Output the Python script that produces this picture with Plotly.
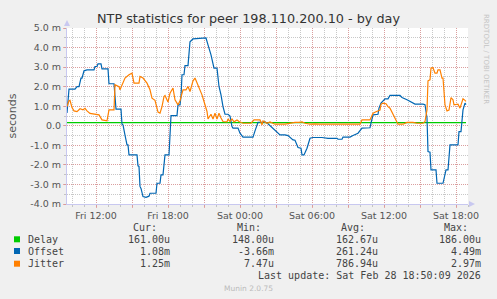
import plotly.graph_objects as go

# ---------------- data (values in milliseconds) ----------------
DAYS = {"Fri": "2026-02-27", "Sat": "2026-02-28"}

delay_time = ["Fri 09:35", "Fri 14:00", "Fri 20:00", "Sat 02:00", "Sat 08:00", "Sat 14:00", "Sat 18:50"]
delay_ms = [0.163, 0.162, 0.164, 0.161, 0.163, 0.162, 0.161]

offset_time = [
    "Fri 09:35", "Fri 09:40", "Fri 09:45", "Fri 10:15", "Fri 10:25", "Fri 10:35", "Fri 10:45", "Fri 10:50",
    "Fri 11:00", "Fri 11:15", "Fri 11:50", "Fri 11:55", "Fri 12:05", "Fri 12:10", "Fri 12:25", "Fri 12:30",
    "Fri 13:00", "Fri 13:05", "Fri 13:30", "Fri 13:40", "Fri 14:05", "Fri 14:10", "Fri 14:15", "Fri 14:25",
    "Fri 14:35", "Fri 14:40", "Fri 14:45", "Fri 15:25", "Fri 15:30", "Fri 15:35", "Fri 15:40", "Fri 15:45",
    "Fri 15:55", "Fri 16:10", "Fri 16:25", "Fri 16:30", "Fri 17:00", "Fri 17:05", "Fri 17:20", "Fri 17:25",
    "Fri 17:35", "Fri 17:45", "Fri 18:05", "Fri 18:15", "Fri 18:45", "Fri 18:50", "Fri 19:00", "Fri 19:05",
    "Fri 19:10", "Fri 19:20", "Fri 19:25", "Fri 19:40", "Fri 19:50", "Fri 20:05", "Fri 21:10", "Fri 21:20",
    "Fri 21:35", "Fri 21:50", "Fri 22:05", "Fri 22:15", "Fri 22:25", "Fri 22:35", "Fri 22:45", "Fri 23:00",
    "Fri 23:10", "Fri 23:20", "Fri 23:25", "Fri 23:50", "Sat 00:00", "Sat 00:15", "Sat 01:05", "Sat 01:15",
    "Sat 01:30", "Sat 01:50", "Sat 02:05", "Sat 02:20", "Sat 02:45", "Sat 03:05", "Sat 03:20", "Sat 03:45",
    "Sat 04:00", "Sat 04:25", "Sat 04:35", "Sat 04:50", "Sat 05:05", "Sat 05:10", "Sat 05:20", "Sat 05:35",
    "Sat 05:50", "Sat 06:05", "Sat 06:50", "Sat 07:20", "Sat 08:05", "Sat 08:10", "Sat 08:30", "Sat 08:35",
    "Sat 09:10", "Sat 09:25", "Sat 09:45", "Sat 09:50", "Sat 10:10", "Sat 10:50", "Sat 10:55", "Sat 11:05",
    "Sat 11:30", "Sat 11:35", "Sat 11:45", "Sat 12:05", "Sat 12:20", "Sat 12:30", "Sat 13:20", "Sat 13:30",
    "Sat 13:55", "Sat 14:10", "Sat 14:35", "Sat 15:15", "Sat 15:25", "Sat 15:35", "Sat 15:40", "Sat 15:50",
    "Sat 15:55", "Sat 16:20", "Sat 16:25", "Sat 16:55", "Sat 17:10", "Sat 17:20", "Sat 17:30", "Sat 18:10",
    "Sat 18:15", "Sat 18:25", "Sat 18:35", "Sat 18:45", "Sat 18:50",
]
offset_ms = [
    0.65, 1.28, 1.87, 1.87, 2.00, 2.00, 2.44, 2.44,
    2.81, 2.86, 2.86, 3.03, 3.03, 3.17, 3.17, 2.91,
    2.91, 2.15, 2.15, 0.85, 0.85, 0.08, 0.05, -0.48,
    -0.98, -0.98, -1.49, -1.49, -2.05, -2.08, -3.10, -3.20,
    -3.62, -3.66, -3.60, -3.45, -3.45, -2.94, -2.94, -2.51,
    -2.51, -1.49, -1.49, 0.52, 0.52, 1.07, 1.07, 1.50,
    2.61, 2.61, 3.08, 3.08, 4.30, 4.44, 4.49, 4.14,
    3.63, 2.95, 2.95, 2.01, 1.58, 0.98, 0.59, 0.59,
    0.50, -0.04, -0.12, -0.12, -0.38, -0.58, -0.58, -0.26,
    0.18, 0.18, 0.20, 0.10, -0.12, -0.30, -0.47, -0.47,
    -0.50, -0.72, -0.74, -1.11, -1.15, -1.49, -1.49, -1.15,
    -0.64, -0.60, -0.60, -0.64, -0.64, -0.69, -0.69, -0.58,
    -0.58, -0.50, -0.38, -0.38, -0.12, -0.10, 0.13, 0.56,
    0.59, 0.90, 1.16, 1.38, 1.38, 1.55, 1.55, 1.45,
    1.33, 1.25, 1.11, 1.11, 1.08, 0.39, -1.32, -1.35,
    -2.26, -2.26, -2.94, -2.94, -2.26, -2.26, -0.98, -0.98,
    -0.30, -0.30, 0.81, 1.16, 1.08,
]

jitter_time = [
    "Fri 09:35", "Fri 09:45", "Fri 09:50", "Fri 10:00", "Fri 10:10", "Fri 10:25", "Fri 10:40", "Fri 10:55",
    "Fri 11:05", "Fri 11:15", "Fri 11:30", "Fri 11:55", "Fri 12:15", "Fri 12:30", "Fri 12:55", "Fri 13:05",
    "Fri 13:30", "Fri 13:35", "Fri 13:55", "Fri 14:00", "Fri 14:10", "Fri 14:25", "Fri 14:45", "Fri 15:00",
    "Fri 15:10", "Fri 15:35", "Fri 15:40", "Fri 15:55", "Fri 16:15", "Fri 16:30", "Fri 16:40", "Fri 16:55",
    "Fri 17:10", "Fri 17:20", "Fri 17:30", "Fri 17:40", "Fri 17:45", "Fri 18:00", "Fri 18:10", "Fri 18:25",
    "Fri 18:35", "Fri 18:50", "Fri 19:00", "Fri 19:15", "Fri 19:30", "Fri 19:40", "Fri 19:50", "Fri 20:05",
    "Fri 20:15", "Fri 20:30", "Fri 20:35", "Fri 20:50", "Fri 21:00", "Fri 21:15", "Fri 21:20", "Fri 21:35",
    "Fri 21:45", "Fri 21:55", "Fri 22:05", "Fri 22:15", "Fri 22:25", "Fri 22:35", "Fri 22:55", "Fri 23:00",
    "Fri 23:10", "Fri 23:20", "Fri 23:30", "Fri 23:45", "Fri 23:55", "Sat 00:15", "Sat 00:55", "Sat 01:10",
    "Sat 01:40", "Sat 01:50", "Sat 01:55", "Sat 02:15", "Sat 02:30", "Sat 02:55", "Sat 03:45", "Sat 04:10",
    "Sat 04:35", "Sat 04:55", "Sat 05:10", "Sat 05:25", "Sat 05:50", "Sat 06:15", "Sat 06:40", "Sat 10:00",
    "Sat 10:10", "Sat 10:50", "Sat 10:55", "Sat 11:05", "Sat 11:20", "Sat 11:40", "Sat 11:45", "Sat 11:55",
    "Sat 12:10", "Sat 12:20", "Sat 12:30", "Sat 12:45", "Sat 13:00", "Sat 13:10", "Sat 13:35", "Sat 13:55",
    "Sat 14:25", "Sat 14:45", "Sat 15:15", "Sat 15:25", "Sat 15:35", "Sat 15:40", "Sat 15:50", "Sat 15:55",
    "Sat 16:05", "Sat 16:15", "Sat 16:25", "Sat 16:30", "Sat 16:40", "Sat 16:50", "Sat 16:55", "Sat 17:05",
    "Sat 17:15", "Sat 17:25", "Sat 17:35", "Sat 17:45", "Sat 17:50", "Sat 18:05", "Sat 18:10", "Sat 18:20",
    "Sat 18:25", "Sat 18:35", "Sat 18:45", "Sat 18:50",
]
jitter_ms = [
    0.98, 1.28, 1.30, 0.93, 0.76, 0.72, 0.87, 0.82,
    0.89, 0.76, 0.63, 0.60, 0.56, 0.30, 0.25, 0.81,
    0.81, 2.10, 2.00, 1.84, 2.10, 2.44, 2.61, 2.69,
    2.18, 2.18, 2.52, 2.44, 2.18, 1.84, 1.41, 1.30,
    0.70, 0.65, 0.98, 1.50, 1.55, 1.21, 1.67, 1.93,
    1.33, 1.07, 1.28, 1.84, 1.84, 2.01, 1.75, 2.30,
    2.44, 2.10, 2.00, 1.58, 1.24, 0.73, 0.35, 0.59,
    0.35, 0.64, 0.35, 0.64, 0.40, 0.22, 0.20, 0.35,
    0.22, 0.35, 0.20, 0.30, 0.22, 0.13, 0.13, 0.30,
    0.30, 0.05, 0.25, 0.13, 0.20, 0.08, 0.08, 0.13,
    0.17, 0.17, 0.20, 0.13, 0.08, 0.10, 0.08, 0.08,
    0.30, 0.30, 0.42, 0.64, 0.72, 0.80, 1.10, 1.16,
    1.13, 0.98, 0.90, 0.59, 0.25, 0.08, 0.08, 0.17,
    0.17, 0.13, 0.13, 0.22, 0.81, 2.30, 2.35, 2.95,
    2.97, 2.69, 2.69, 2.86, 2.86, 2.44, 2.44, 1.07,
    0.76, 0.80, 1.44, 1.33, 1.07, 1.07, 1.10, 0.90,
    1.07, 1.38, 1.30, 1.25,
]

series_names = ["Delay", "Offset", "Jitter"]
series_colors = ["#00CC00", "#0066B3", "#FF8000"]
stat_headers = ["Cur:", "Min:", "Avg:", "Max:"]
stat_values = [
    ["161.00u", "148.00u", "162.67u", "186.00u"],
    ["1.08m", "-3.66m", "261.24u", "4.49m"],
    ["1.25m", "7.47u", "786.94u", "2.97m"],
]

y_tick_vals = [5, 4, 3, 2, 1, 0, -1, -2, -3, -4]
y_tick_text = ["5.0 m", "4.0 m", "3.0 m", "2.0 m", "1.0 m", "0.0", "-1.0 m", "-2.0 m", "-3.0 m", "-4.0 m"]
x_tick_vals = ["Fri 12:00", "Fri 15:00", "Fri 18:00", "Fri 21:00", "Sat 00:00",
               "Sat 03:00", "Sat 06:00", "Sat 09:00", "Sat 12:00", "Sat 15:00", "Sat 18:00"]
x_tick_text = ["Fri 12:00", "", "Fri 18:00", "", "Sat 00:00", "", "Sat 06:00", "", "Sat 12:00", "", "Sat 18:00"]
x_range = ["Fri 09:35", "Sat 19:00"]

title_text = "NTP statistics for peer 198.110.200.10 - by day"
y_title = "seconds"
last_update = "Last update: Sat Feb 28 18:50:09 2026"
footer = "Munin 2.0.75"
side_text = "RRDTOOL / TOBI OETIKER"


def ts(s):
    d, t = s.split()
    return DAYS[d] + " " + t


# ---------------- layout geometry (pixels) ----------------
W, H = 497, 299
L, R, T, B = 67, 29, 28, 95
PW, PH = W - L - R, H - T - B


def px(x):
    return (x - L) / PW


def py(y):
    return (H - B - y) / PH


fig = go.Figure()
for name, color, tl, vl in zip(series_names, series_colors,
                               [delay_time, offset_time, jitter_time],
                               [delay_ms, offset_ms, jitter_ms]):
    fig.add_trace(go.Scatter(x=[ts(t) for t in tl], y=vl, mode="lines", name=name,
                             line=dict(color=color, width=1.2), hoverinfo="skip"))

grid_major = "rgba(225,140,140,0.7)"
grid_minor = "rgba(170,170,170,0.65)"
axis_col = "#C8C8F0"
tick_font = dict(family="DejaVu Sans", size=9.5, color="#555555")

fig.update_xaxes(
    type="date", range=[ts(x_range[0]), ts(x_range[1])],
    tickmode="array", tickvals=[ts(v) for v in x_tick_vals], ticktext=x_tick_text,
    showgrid=True, gridcolor=grid_major, griddash="1px,1px", gridwidth=1,
    ticks="outside", ticklen=3, tickcolor=grid_major,
    minor=dict(dtick=3600000, tick0="2026-02-27 00:00", showgrid=True, gridcolor=grid_minor,
               griddash="1px,1px", ticks="outside", ticklen=2, tickcolor=grid_minor),
    showline=True, linecolor=axis_col, linewidth=1, zeroline=False,
    tickfont=tick_font, fixedrange=True, automargin=False,
)
fig.update_yaxes(
    range=[-4, 5], tickmode="array", tickvals=y_tick_vals, ticktext=y_tick_text,
    showgrid=True, gridcolor=grid_major, griddash="1px,1px", gridwidth=1,
    ticks="outside", ticklen=3, tickcolor=grid_major,
    minor=dict(dtick=0.5, tick0=0, showgrid=True, gridcolor=grid_minor,
               griddash="1px,1px", ticks="outside", ticklen=2, tickcolor=grid_minor),
    showline=True, linecolor=axis_col, linewidth=1, zeroline=False,
    tickfont=tick_font, fixedrange=True, automargin=False,
    title=dict(text=y_title, font=dict(family="DejaVu Sans", size=11, color="#555555"), standoff=11),
)

ann = []
mono = dict(family="DejaVu Sans Mono", size=10, color="#444444")
head_right = [159, 263, 367, 470]
col_right = [172, 276, 380, 483]
for h, xr in zip(stat_headers, head_right):
    ann.append(dict(x=px(xr), y=py(227.7), text=h, xanchor="right", yanchor="middle", font=mono))
row_y = [239.3, 251.0, 263.7]
shapes = []
for i, (name, color) in enumerate(zip(series_names, series_colors)):
    yy = row_y[i]
    shapes.append(dict(type="rect", xref="paper", yref="paper", x0=px(14), x1=px(20),
                       y0=py(yy + 3), y1=py(yy - 3), fillcolor=color, line=dict(width=0)))
    ann.append(dict(x=px(26), y=py(yy), text=name, xanchor="left", yanchor="middle", font=mono))
    for v, xr in zip(stat_values[i], col_right):
        ann.append(dict(x=px(xr), y=py(yy), text=v, xanchor="right", yanchor="middle", font=mono))
ann.append(dict(x=px(483), y=py(275.7), text=last_update, xanchor="right", yanchor="middle", font=mono))
ann.append(dict(x=px(248), y=py(288), text=footer, xanchor="center", yanchor="middle",
                font=dict(family="DejaVu Sans", size=7.5, color="#BBBBBB")))
ann.append(dict(x=px(486), y=py(59), text=side_text, textangle=90, xanchor="center", yanchor="middle",
                font=dict(family="DejaVu Sans", size=7, color="#C4C4C4")))
for a in ann:
    a.update(xref="paper", yref="paper", showarrow=False)

shapes.append(dict(type="path", xref="paper", yref="paper",
                   path=f"M {px(64)} {py(26)} L {px(70)} {py(26)} L {px(67)} {py(20)} Z",
                   fillcolor=axis_col, line=dict(width=0)))
shapes.append(dict(type="path", xref="paper", yref="paper",
                   path=f"M {px(469)} {py(201)} L {px(469)} {py(207)} L {px(475)} {py(204)} Z",
                   fillcolor=axis_col, line=dict(width=0)))

fig.update_layout(
    width=W, height=H, margin=dict(l=L, r=R, t=T, b=B, autoexpand=False),
    paper_bgcolor="#F0F0F0", plot_bgcolor="#FFFFFF",
    showlegend=False,
    title=dict(text=title_text, x=0.5, xanchor="center", y=1 - 19 / H, yanchor="middle",
               font=dict(family="DejaVu Sans", size=12.8, color="#333333")),
    annotations=ann, shapes=shapes,
)

fig.write_html("out.html", config={"displayModeBar": False},
               post_script="document.body.style.margin='0';")
